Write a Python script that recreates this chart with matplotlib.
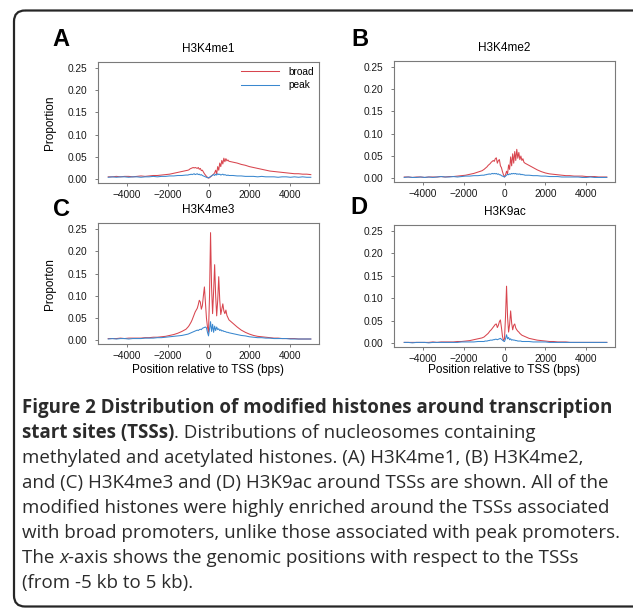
import numpy as np
import matplotlib.pyplot as plt
import matplotlib as mpl
from matplotlib.patches import FancyBboxPatch

mpl.rcParams['font.family'] = 'Liberation Sans'
mpl.rcParams['axes.unicode_minus'] = True

W, H = 633, 611

# positions relative to TSS (bp): coarse on the flanks, finer around the TSS
pos = np.concatenate([np.arange(-4900, -1000, 200),
                      np.arange(-1000, 1001, 50),
                      np.arange(1200, 5001, 200)])

# H3K4me1
me1_broad = [0.005, 0.005, 0.006, 0.005, 0.006, 0.006, 0.005, 0.006, 0.007, 0.006,
             0.007, 0.008, 0.008, 0.009, 0.010, 0.011, 0.013, 0.015, 0.017, 0.019,
             0.020, 0.021, 0.023, 0.024, 0.025, 0.026, 0.025, 0.026, 0.025, 0.024,
             0.026, 0.022, 0.024, 0.019, 0.020, 0.016, 0.012, 0.009, 0.006, 0.004,
             0.002, 0.003, 0.005, 0.007, 0.009, 0.011, 0.014, 0.020, 0.012, 0.028,
             0.020, 0.036, 0.028, 0.042, 0.034, 0.047, 0.039, 0.046, 0.041, 0.043,
             0.040,
             0.038, 0.036, 0.033, 0.031, 0.028, 0.026, 0.024, 0.022, 0.020, 0.018,
             0.017, 0.016, 0.015, 0.014, 0.013, 0.012, 0.012, 0.011, 0.011, 0.010]
me1_peak = [0.004, 0.005, 0.004, 0.005, 0.005, 0.004, 0.005, 0.005, 0.004, 0.005,
            0.005, 0.006, 0.005, 0.006, 0.006, 0.007, 0.007, 0.008, 0.008, 0.009,
            0.009, 0.010, 0.010, 0.011, 0.010, 0.011, 0.012, 0.010, 0.011, 0.012,
            0.010, 0.011, 0.009, 0.010, 0.008, 0.007, 0.006, 0.005, 0.004, 0.003,
            0.003, 0.004, 0.006, 0.007, 0.009, 0.010, 0.008, 0.011, 0.009, 0.012,
            0.010, 0.011, 0.009, 0.010, 0.011, 0.009, 0.010, 0.009, 0.008, 0.009,
            0.008,
            0.008, 0.007, 0.007, 0.006, 0.006, 0.006, 0.005, 0.006, 0.005, 0.005,
            0.005, 0.004, 0.005, 0.005, 0.004, 0.005, 0.004, 0.005, 0.004, 0.004]

# H3K4me2
me2_broad = [0.003, 0.003, 0.002, 0.003, 0.003, 0.002, 0.003, 0.003, 0.003, 0.004,
             0.003, 0.004, 0.004, 0.005, 0.006, 0.007, 0.009, 0.011, 0.014, 0.017,
             0.020, 0.022, 0.024, 0.026, 0.029, 0.031, 0.033, 0.036, 0.038, 0.040,
             0.038, 0.044, 0.046, 0.034, 0.040, 0.042, 0.028, 0.024, 0.015, 0.008,
             0.003, 0.008, 0.016, 0.010, 0.030, 0.020, 0.048, 0.028, 0.055, 0.034,
             0.060, 0.040, 0.065, 0.045, 0.058, 0.042, 0.050, 0.040, 0.044, 0.036,
             0.034,
             0.029, 0.024, 0.019, 0.015, 0.012, 0.010, 0.009, 0.008, 0.007, 0.006,
             0.006, 0.005, 0.005, 0.005, 0.004, 0.004, 0.004, 0.003, 0.003, 0.003]
me2_peak = [0.002, 0.003, 0.002, 0.002, 0.003, 0.002, 0.003, 0.002, 0.003, 0.004,
            0.003, 0.003, 0.004, 0.003, 0.004, 0.005, 0.005, 0.006, 0.006, 0.007,
            0.007, 0.008, 0.008, 0.009, 0.009, 0.010, 0.009, 0.010, 0.011, 0.010,
            0.011, 0.010, 0.011, 0.009, 0.010, 0.008, 0.008, 0.006, 0.005, 0.004,
            0.003, 0.005, 0.007, 0.009, 0.008, 0.010, 0.009, 0.011, 0.010, 0.011,
            0.010, 0.011, 0.009, 0.010, 0.009, 0.010, 0.008, 0.009, 0.008, 0.008,
            0.007,
            0.007, 0.006, 0.006, 0.005, 0.005, 0.004, 0.004, 0.004, 0.003, 0.003,
            0.003, 0.003, 0.003, 0.002, 0.002, 0.003, 0.002, 0.002, 0.002, 0.002]

# H3K4me3
me3_broad = [0.004, 0.004, 0.004, 0.005, 0.004, 0.005, 0.005, 0.005, 0.005, 0.006,
             0.006, 0.007, 0.007, 0.008, 0.009, 0.011, 0.013, 0.016, 0.020, 0.025,
             0.030, 0.033, 0.037, 0.041, 0.046, 0.052, 0.058, 0.064, 0.068, 0.072,
             0.080, 0.090, 0.086, 0.070, 0.078, 0.100, 0.120, 0.085, 0.050, 0.030,
             0.018, 0.100, 0.242, 0.120, 0.060, 0.110, 0.170, 0.100, 0.055, 0.090,
             0.143, 0.090, 0.058, 0.070, 0.082, 0.066, 0.060, 0.068, 0.056, 0.051,
             0.046,
             0.038, 0.030, 0.023, 0.018, 0.014, 0.011, 0.009, 0.008, 0.007, 0.006,
             0.005, 0.005, 0.004, 0.004, 0.004, 0.004, 0.003, 0.003, 0.003, 0.003]
me3_peak = [0.003, 0.004, 0.003, 0.004, 0.004, 0.003, 0.004, 0.004, 0.004, 0.005,
            0.005, 0.005, 0.006, 0.006, 0.007, 0.008, 0.009, 0.010, 0.011, 0.013,
            0.014, 0.015, 0.016, 0.017, 0.018, 0.019, 0.020, 0.021, 0.022, 0.023,
            0.022, 0.024, 0.025, 0.024, 0.027, 0.028, 0.029, 0.030, 0.028, 0.018,
            0.010, 0.025, 0.042, 0.020, 0.036, 0.018, 0.032, 0.022, 0.030, 0.024,
            0.026, 0.022, 0.024, 0.021, 0.022, 0.020, 0.020, 0.019, 0.018, 0.018,
            0.017,
            0.015, 0.013, 0.011, 0.010, 0.008, 0.007, 0.006, 0.006, 0.005, 0.005,
            0.004, 0.004, 0.004, 0.004, 0.003, 0.003, 0.003, 0.003, 0.003, 0.003]

# H3K9ac
k9ac_broad = [0.002, 0.002, 0.002, 0.002, 0.002, 0.002, 0.002, 0.003, 0.002, 0.003,
              0.003, 0.003, 0.003, 0.004, 0.004, 0.005, 0.006, 0.008, 0.010, 0.012,
              0.014, 0.016, 0.018, 0.020, 0.022, 0.025, 0.028, 0.030, 0.033, 0.036,
              0.039, 0.042, 0.043, 0.035, 0.040, 0.048, 0.052, 0.035, 0.016, 0.006,
              0.010, 0.060, 0.127, 0.058, 0.025, 0.042, 0.072, 0.045, 0.030, 0.040,
              0.043, 0.034, 0.030, 0.027, 0.025, 0.022, 0.020, 0.018, 0.017, 0.016,
              0.015,
              0.011, 0.009, 0.007, 0.006, 0.005, 0.004, 0.004, 0.003, 0.003, 0.003,
              0.002, 0.002, 0.002, 0.002, 0.002, 0.002, 0.002, 0.002, 0.002, 0.002]
k9ac_peak = [0.002, 0.002, 0.001, 0.002, 0.002, 0.002, 0.001, 0.002, 0.002, 0.002,
             0.002, 0.002, 0.002, 0.002, 0.003, 0.003, 0.003, 0.003, 0.004, 0.004,
             0.004, 0.005, 0.005, 0.005, 0.006, 0.006, 0.007, 0.007, 0.007, 0.008,
             0.008, 0.009, 0.009, 0.008, 0.009, 0.010, 0.011, 0.009, 0.007, 0.005,
             0.004, 0.010, 0.019, 0.010, 0.013, 0.008, 0.010, 0.007, 0.008, 0.007,
             0.007, 0.006, 0.006, 0.005, 0.005, 0.005, 0.005, 0.004, 0.004, 0.004,
             0.004,
             0.004, 0.003, 0.003, 0.003, 0.003, 0.002, 0.002, 0.002, 0.002, 0.002,
             0.002, 0.002, 0.002, 0.002, 0.002, 0.002, 0.002, 0.002, 0.002, 0.002]

titles = ['H3K4me1', 'H3K4me2', 'H3K4me3', 'H3K9ac']
letters = ['A', 'B', 'C', 'D']
broad = [me1_broad, me2_broad, me3_broad, k9ac_broad]
peak = [me1_peak, me2_peak, me3_peak, k9ac_peak]
ylabels = ['Proportion', None, 'Proporton', None]
xticks = [-4000, -2000, 0, 2000, 4000]
yticks = [0.00, 0.05, 0.10, 0.15, 0.20, 0.25]

caption = [
    [('Figure 2 Distribution of modified histones around transcription', 'bold', 'normal')],
    [('start sites (TSSs)', 'bold', 'normal'),
     ('. Distributions of nucleosomes containing', 'normal', 'normal')],
    [('methylated and acetylated histones. (A) H3K4me1, (B) H3K4me2,', 'normal', 'normal')],
    [('and (C) H3K4me3 and (D) H3K9ac around TSSs are shown. All of the', 'normal', 'normal')],
    [('modified histones were highly enriched around the TSSs associated', 'normal', 'normal')],
    [('with broad promoters, unlike those associated with peak promoters.', 'normal', 'normal')],
    [('The ', 'normal', 'normal'), ('x', 'normal', 'italic'),
     ('-axis shows the genomic positions with respect to the TSSs', 'normal', 'normal')],
    [('(from -5 kb to 5 kb).', 'normal', 'normal')],
]

RED = '#d8454e'
BLUE = '#3a88cf'
GREY = '#7a7a7a'


def main():
    fig = plt.figure(figsize=(W / 100, H / 100), dpi=100)

    # background layer in pixel coordinates (border, letters, caption)
    bg = fig.add_axes([0, 0, 1, 1])
    bg.set_xlim(0, W)
    bg.set_ylim(H, 0)
    bg.axis('off')
    bg.add_patch(FancyBboxPatch((14, 10.5), 640, 596, boxstyle='round,pad=0,rounding_size=11',
                                fc='none', ec='#262626', lw=1.6))

    # axes boxes: left, top, right, bottom in pixels
    boxes = [(98, 62.3, 319, 182.6), (394, 61, 615, 181.9),
             (98, 223.3, 319, 343.9), (394, 225, 615, 346.9)]
    letter_xy = [(61, 40), (360, 40), (61, 210), (359, 208)]

    for i in range(4):
        l, t, r, b = boxes[i]
        ax = fig.add_axes([l / W, 1 - b / H, (r - l) / W, (b - t) / H])
        ax.plot(pos, broad[i], color=RED, lw=0.75, label='broad')
        ax.plot(pos, peak[i], color=BLUE, lw=0.75, label='peak')
        ax.set_xlim(-5400, 5400)
        ax.set_ylim(-0.008, 0.263)
        ax.set_xticks(xticks)
        ax.set_yticks(yticks)
        ax.set_yticklabels([f'{v:.2f}' for v in yticks])
        for s in ax.spines.values():
            s.set_color(GREY)
            s.set_linewidth(0.8)
        ax.tick_params(axis='both', colors=GREY, labelcolor='#1a1a1a', labelsize=7.3,
                       length=2.5, width=0.7)
        ax.tick_params(axis='y', pad=5)
        ax.tick_params(axis='x', pad=2.5)
        ax.set_title(titles[i], fontsize=8.5, pad=7.3)
        if ylabels[i]:
            ax.set_ylabel(ylabels[i], fontsize=8.5, va='center')
            ax.yaxis.set_label_coords((50 - l) / (r - l), 0.5)
        if i >= 2:
            ax.set_xlabel('Position relative to TSS (bps)', fontsize=8.5, va='center')
            ax.xaxis.set_label_coords(0.5, (b - 370.5) / (b - t))
        if i == 0:
            ax.legend(loc='upper right', bbox_to_anchor=(1.0, 1.0), frameon=False,
                      fontsize=7.3, handlelength=3.7, handletextpad=1.0,
                      labelspacing=0.35, borderaxespad=0.25, borderpad=0.2)
        bg.text(letter_xy[i][0], letter_xy[i][1], letters[i], fontsize=17,
                fontweight='bold', ha='center', va='center')

    # caption, pieces placed one after another on each line
    renderer = fig.canvas.get_renderer()
    for n, line in enumerate(caption):
        x = 22
        y = 413 + 25 * n
        for txt, weight, style in line:
            t = bg.text(x, y, txt, fontsize=13.5, family='Open Sans', fontweight=weight,
                        fontstyle=style, ha='left', va='baseline', color='#2b2b2b')
            x += t.get_window_extent(renderer).width

    fig.savefig('out.png', dpi=100)


if __name__ == '__main__':
    main()
